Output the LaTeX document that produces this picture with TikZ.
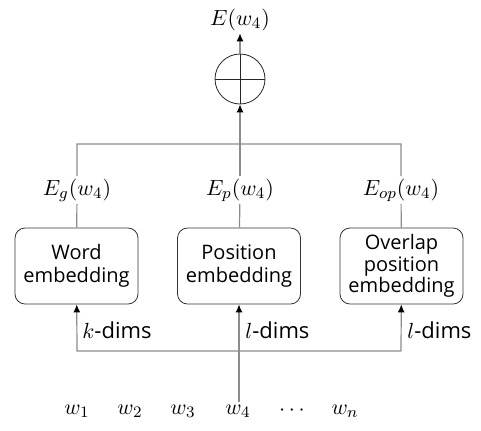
\documentclass[tikz,border=0pt]{standalone}
\usepackage{fontspec}
\setmainfont{Open Sans}
\usetikzlibrary{arrows.meta,positioning}

\begin{document}
\begin{tikzpicture}[
  x=0.5pt, y=-0.5pt, >={Latex[length=4pt,width=3.5pt,color=black]},
  font=\fontsize{10}{11.5}\selectfont,
  box/.style={draw=black!80, align=center, rounded corners=5pt,
              minimum width=61.5pt, minimum height=38pt, inner sep=1pt},
  lbl/.style={font=\fontsize{11}{13}\selectfont, inner sep=1pt},
  wire/.style={draw=black!45, line width=0.6pt}]
\useasboundingbox (0,0) rectangle (481,430);
% embedding blocks
\node[box] (word) at (76.5,266) {Word\\embedding};
\node[box] (pos)  at (239,266)  {Position\\embedding};
\node[box, text width=60pt, inner sep=0pt, font=\fontsize{10}{10.8}\selectfont]
  (over) at (401.5,266) {Overlap\\position\\embedding};
% outputs of the blocks
\node[lbl] (eg) at (77,190)  {$E_g(w_4)$};
\node[lbl] (ep) at (240,190) {$E_p(w_4)$};
\node[lbl] (eo) at (401,190) {$E_{op}(w_4)$};
% sum
\node[circle, draw=black!85, minimum size=25pt, inner sep=0pt] (sum) at (240,79) {};
\draw[black!85] (sum.west) -- (sum.east) (sum.north) -- (sum.south);
\node[lbl] (out) at (240,20) {$E(w_4)$};
\coordinate (topl) at (77,144);
\coordinate (topr) at (401,144);
\coordinate (botl) at (77,351);
\coordinate (botr) at (401,351);
% input words
\foreach \i/\x/\t in {1/77/w_1, 2/130/w_2, 3/183/w_3, 4/238/w_4, 5/292/\cdots, 6/345/w_n}
  \node[lbl] (w\i) at (\x,411) {$\t$};
% connections
\path[wire]
  (word) -- (eg)
  (pos) -- (ep)
  (over) -- (eo)
  (eg) |- (topr) -- (eo);
\draw[wire, ->] (ep) -- (sum);
\draw[wire, ->] (sum) -- (out);
\draw[wire, ->] (w4.north -| pos.south) -- (pos);
\draw[wire, ->] (botr) -- (botl) -- (word);
\draw[wire, ->] (botr) -- (over);
% dims
\node[lbl, anchor=west] (dk) at (80,330) {$k$-dims};
\node[lbl, anchor=west] (dl) at (243,330) {$l$-dims};
\node[lbl, anchor=west] (dm) at (405,330) {$l$-dims};
\end{tikzpicture}
\end{document}
